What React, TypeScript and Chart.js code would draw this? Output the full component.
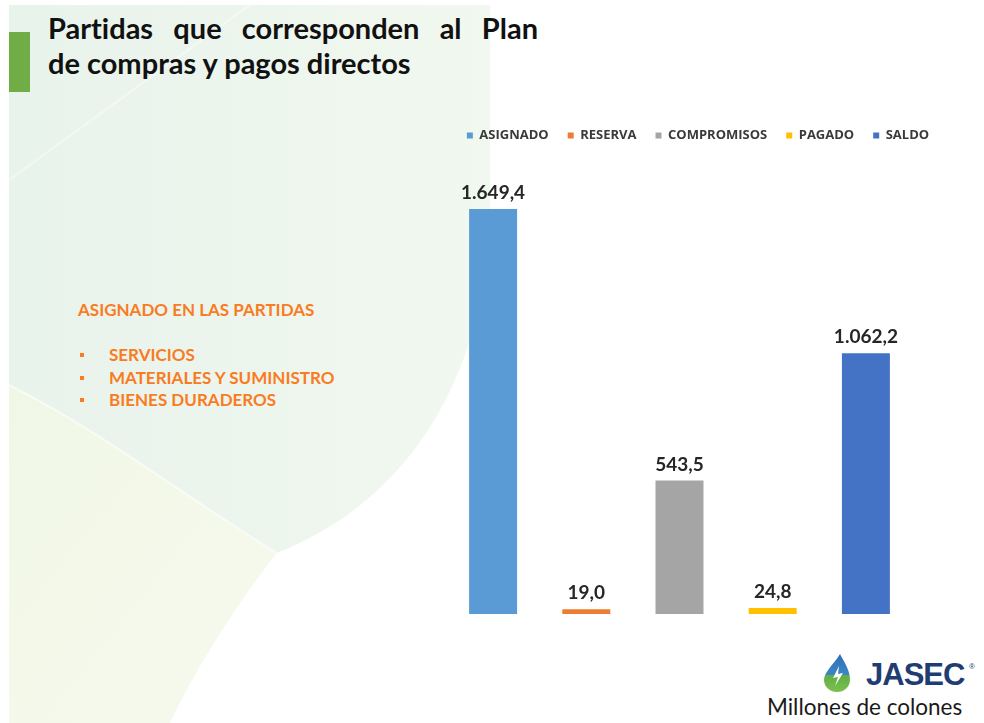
import React, { useEffect, useRef } from 'react';
import { Chart, registerables } from 'chart.js';

Chart.register(...registerables);

// ---- Data ----
const categories = [''];
const seriesNames = ['ASIGNADO', 'RESERVA', 'COMPROMISOS', 'PAGADO', 'SALDO'];
const seriesValues = [1649.4, 19.0, 543.5, 24.8, 1062.2];
const seriesColors = ['#5b9bd5', '#ed7d31', '#a5a5a5', '#ffc000', '#4472c4'];
const yAxisMax = 1800;

const titleLines = ['Partidas que corresponden al Plan', 'de compras y pagos directos'];
const sideHeading = 'ASIGNADO EN LAS PARTIDAS';
const sideItems = ['SERVICIOS', 'MATERIALES Y SUMINISTRO', 'BIENES DURADEROS'];
const unitsNote = 'Millones de colones';

function formatEs(v: number): string {
  const [i, d] = v.toFixed(1).split('.');
  return i.replace(/\B(?=(\d{3})+(?!\d))/g, '.') + ',' + d;
}

const valueLabels = {
  id: 'valueLabels',
  afterDatasetsDraw(chart: any) {
    const ctx = chart.ctx;
    ctx.save();
    ctx.font = 'bold 19px Lato';
    ctx.fillStyle = '#262626';
    ctx.textAlign = 'center';
    ctx.textBaseline = 'alphabetic';
    chart.data.datasets.forEach((ds: any, i: number) => {
      const meta = chart.getDatasetMeta(i);
      meta.data.forEach((el: any, j: number) => {
        ctx.fillText(formatEs(ds.data[j]), el.x, el.y - 10);
      });
    });
    ctx.restore();
  },
};

const legendHeight = {
  id: 'legendHeight',
  afterInit(chart: any) {
    const lg = chart.legend;
    if (!lg) return;
    const orig = lg.fit;
    lg.fit = function () {
      orig.call(this);
      this.height = 62;
    };
  },
};

function ChartBox() {
  const ref = useRef<HTMLCanvasElement>(null);
  useEffect(() => {
    if (!ref.current) return;
    const chart = new Chart(ref.current, {
      type: 'bar',
      data: {
        labels: categories,
        datasets: seriesNames.map((name, i) => ({
          label: name,
          data: [seriesValues[i]],
          backgroundColor: seriesColors[i],
          borderWidth: 0,
          categoryPercentage: 1,
          barPercentage: 0.515,
        })),
      },
      options: {
        responsive: false,
        animation: false,
        devicePixelRatio: 1,
        layout: { padding: 0 },
        plugins: {
          legend: {
            position: 'top',
            labels: {
              boxWidth: 6,
              boxHeight: 6,
              padding: 19,
              color: '#3a3a3a',
              font: { family: 'Open Sans', size: 13, weight: '700' },
            },
          },
          tooltip: { enabled: false },
          title: { display: false },
        },
        scales: {
          x: { display: false },
          y: {
            min: 0,
            max: yAxisMax,
            display: true,
            grid: { display: false },
            border: { display: false },
            ticks: { display: false },
            afterFit(s: any) { s.width = 6.5; },
          },
          yRight: {
            type: 'linear',
            position: 'right',
            display: true,
            grid: { display: false },
            border: { display: false },
            ticks: { display: false },
            afterFit(s: any) { s.width = 43.5; },
          },
        },
      } as any,
      plugins: [valueLabels, legendHeight],
    });
    return () => chart.destroy();
  }, []);
  return (
    <canvas
      ref={ref}
      width={516}
      height={504}
      style={{ position: 'absolute', left: 440, top: 110, width: 516, height: 504 }}
    />
  );
}

export default function App() {
  const orange = '#f97b22';
  const sideFont = { fontFamily: 'Lato', fontWeight: 700, fontSize: 17, lineHeight: '20px', color: orange, whiteSpace: 'nowrap' as const };
  return (
    <div style={{ position: 'absolute', left: 0, top: 0, width: 984, height: 723, overflow: 'hidden', background: '#ffffff' }}>
      <svg width={984} height={723} style={{ position: 'absolute', left: 0, top: 0 }}>
        <defs>
          <linearGradient id="gg" x1="0" y1="0" x2="1" y2="0">
            <stop offset="0" stopColor="#e8f3eb" />
            <stop offset="1" stopColor="#f1f8ef" />
          </linearGradient>
          <linearGradient id="gy" x1="0" y1="0" x2="1" y2="1">
            <stop offset="0" stopColor="#f1f7e6" />
            <stop offset="1" stopColor="#f6faee" />
          </linearGradient>
        </defs>
        <path d="M9 5 H490 V230 C 480 380, 410 500, 277 553 C 190 500, 100 430, 9 385 Z" fill="url(#gg)" />
        <path d="M9 385 C 100 430, 190 500, 277 553 C 240 600, 200 660, 170 723 H9 Z" fill="url(#gy)" />
        <path d="M9 385 C 100 430, 190 500, 277 553" stroke="#ffffff" strokeOpacity={0.5} strokeWidth={2} fill="none" />
        <path d="M9 180 L 250 5" stroke="#ffffff" strokeOpacity={0.4} strokeWidth={2} fill="none" />
        <rect x={9} y={32} width={21} height={60} fill="#70ad47" />
      </svg>

      <div style={{ position: 'absolute', left: 48, top: 10, width: 490, fontFamily: 'Lato', fontWeight: 700, fontSize: 29, lineHeight: '35px', color: '#111', fontVariantLigatures: 'none' }}>
        <div style={{ whiteSpace: 'nowrap', display: 'flex', justifyContent: 'space-between' }}>
          {titleLines[0].split(' ').map((w, i) => <span key={i}>{w}</span>)}
        </div>
        <div>{titleLines[1]}</div>
      </div>

      <div style={{ position: 'absolute', left: 78, top: 300, ...sideFont }}>
        {sideHeading}
      </div>
      {sideItems.map((t, i) => (
        <React.Fragment key={i}>
          <div style={{ position: 'absolute', left: 80, top: 355 + i * 22.7 - 2, width: 4, height: 4, background: orange }} />
          <div style={{ position: 'absolute', left: 109, top: 345 + i * 22.7, ...sideFont }}>
            {t}
          </div>
        </React.Fragment>
      ))}

      <ChartBox />

      <svg width={34} height={42} style={{ position: 'absolute', left: 820, top: 652 }}>
        <defs>
          <linearGradient id="drop" x1="0" y1="0" x2="0" y2="1">
            <stop offset="0" stopColor="#2f6fb5" />
            <stop offset="0.55" stopColor="#3b86c6" />
            <stop offset="0.55" stopColor="#5fae45" />
            <stop offset="1" stopColor="#7cc04e" />
          </linearGradient>
        </defs>
        <path d="M20 2 C 14 12, 4 20, 4 28 A 13 12 0 0 0 30 28 C 30 18, 24 10, 20 2 Z" fill="url(#drop)" />
        <path d="M19 14 L 13 26 L 18 25 L 15 34 L 23 21 L 18 22 Z" fill="#ffffff" />
      </svg>
      <div style={{ position: 'absolute', left: 866, top: 657, fontFamily: 'Liberation Sans', fontWeight: 700, fontSize: 31, letterSpacing: -1, lineHeight: '36px', color: '#1f3c73' }}>
        JASEC
      </div>
      <div style={{ position: 'absolute', left: 969, top: 662, fontFamily: 'Liberation Sans', fontSize: 8, color: '#1f3c73' }}>®</div>
      <div style={{ position: 'absolute', left: 767, top: 693, fontFamily: 'Lato', fontSize: 22.5, lineHeight: '28px', color: '#1a1a1a', whiteSpace: 'nowrap' }}>
        {unitsNote}
      </div>
    </div>
  );
}
